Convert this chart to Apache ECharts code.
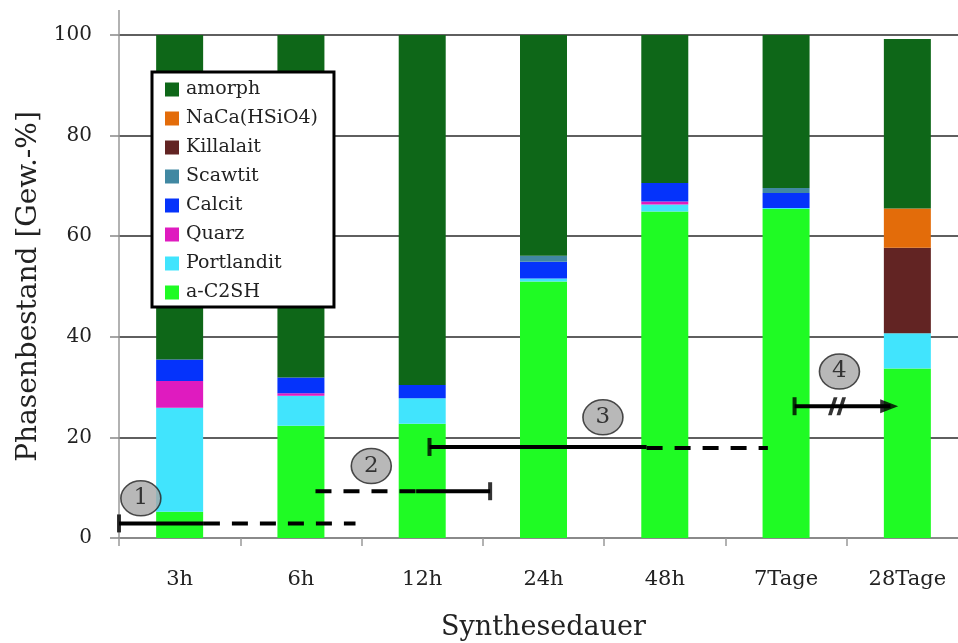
<!DOCTYPE html>
<html><head><meta charset="utf-8">
<script src="https://cdn.jsdelivr.net/npm/echarts@6/dist/echarts.min.js"></script>
<style>html,body{margin:0;padding:0;background:#fff}#c{width:958px;height:643px}</style>
</head><body><div id="c"></div>
<script>
// ---- data ----
const categories = ['3h','6h','12h','24h','48h','7Tage','28Tage'];
const aC2SH      = [5.2, 22.3, 22.7, 51.0, 64.9, 65.4, 33.7];
const portlandit = [20.7, 6.0, 5.1, 0.6, 1.4, 0.2, 7.0];
const quarz      = [5.3, 0.5, 0, 0, 0.6, 0, 0];
const calcit     = [4.3, 3.1, 2.6, 3.3, 3.7, 3.0, 0];
const scawtit    = [0, 0, 0, 1.2, 0, 1.0, 0];
const killalait  = [0, 0, 0, 0, 0, 0, 17.0];
const naca       = [0, 0, 0, 0, 0, 0, 7.8];
const amorph     = [64.5, 68.1, 69.6, 43.9, 29.4, 30.4, 33.7];
const yTicks = [0, 20, 40, 60, 80, 100];

// annotation ranges (x in category units, 0 = left edge of axis)
const ann1Solid = [[0, 2.9], [0.70, 2.9]];
const ann1Dash  = [[0.70, 2.9], [1.95, 2.9]];
const ann2Dash  = [[1.62, 9.3], [2.45, 9.3]];
const ann2Solid = [[2.45, 9.3], [3.06, 9.3]];
const ann3Solid = [[2.56, 18.1], [4.35, 18.1]];
const ann3Dash  = [[4.35, 17.9], [5.35, 17.9]];
const ann4Line  = [[5.57, 26.2], [6.36, 26.2]];
const ann4Arrow = [[6.35, 26.2]];
const ann4Break = [[5.92, 26.2]];
const endTicks  = [[0, 2.9], [3.06, 9.3], [2.56, 18.1], [5.57, 26.2]];
const badges    = [[0.18, 7.9, '1'], [2.08, 14.3, '2'], [3.99, 24.0, '3'], [5.94, 33.1, '4']];

// ---- chart ----
const FONT = '"DejaVu Serif", "Liberation Serif", serif';
const colors = {
  'a-C2SH': '#1ffb24', 'Portlandit': '#41e4fd', 'Quarz': '#df1bbf', 'Calcit': '#0533fb',
  'Scawtit': '#4188a2', 'Killalait': '#622423', 'NaCa(HSiO4)': '#e36c0a', 'amorph': '#0e6718'
};
const stackDefs = [
  ['a-C2SH', aC2SH], ['Portlandit', portlandit], ['Quarz', quarz], ['Calcit', calcit],
  ['Scawtit', scawtit], ['Killalait', killalait], ['NaCa(HSiO4)', naca], ['amorph', amorph]
];
const series = stackDefs.map(([name, vals]) => ({
  name, type: 'bar', stack: 'total', barWidth: 47, data: vals,
  itemStyle: { color: colors[name] }, xAxisIndex: 0, yAxisIndex: 0, z: 2
}));

function ln(data, dashed) {
  return { type: 'line', data, xAxisIndex: 1, yAxisIndex: 0, symbol: 'none', silent: true, z: 5,
    lineStyle: { color: '#000', width: 4, type: dashed ? [16, 12] : 'solid' } };
}
series.push(ln(ann1Solid, false), ln(ann1Dash, true), ln(ann2Dash, true), ln(ann2Solid, false),
  ln(ann3Solid, false), ln(ann3Dash, true), ln(ann4Line, false));
series.push({ type: 'scatter', data: endTicks, xAxisIndex: 1, yAxisIndex: 0, symbol: 'rect',
  symbolSize: [4, 18], itemStyle: { color: '#000' }, z: 6, silent: true });
series.push({ type: 'scatter', data: ann4Arrow, xAxisIndex: 1, yAxisIndex: 0, symbol: 'triangle',
  symbolRotate: -90, symbolSize: [14, 18], itemStyle: { color: '#000' }, z: 6, silent: true });
series.push({ type: 'scatter', data: ann4Break, xAxisIndex: 1, yAxisIndex: 0,
  symbol: 'path://M0,20 L6,0 L10,0 L4,20 Z M9,20 L15,0 L19,0 L13,20 Z', symbolSize: [18, 18],
  itemStyle: { color: '#000' }, z: 7, silent: true });
series.push({ type: 'scatter', data: badges, xAxisIndex: 1, yAxisIndex: 0, symbol: 'circle',
  symbolSize: [40, 35], z: 8, silent: true,
  itemStyle: { color: '#a6a6a6', borderColor: '#222', borderWidth: 1.5 },
  label: { show: true, position: 'inside', formatter: p => p.value[2], fontFamily: FONT, fontSize: 23, color: '#111' } });

const option = {
  animation: false,
  backgroundColor: '#fff',
  grid: { left: 119, width: 849, top: 35, bottom: 105, containLabel: false, outerBoundsMode: 'none' },
  legend: {
    data: ['amorph', 'NaCa(HSiO4)', 'Killalait', 'Scawtit', 'Calcit', 'Quarz', 'Portlandit', 'a-C2SH'],
    orient: 'vertical', left: 152, top: 72, itemWidth: 14, itemHeight: 14, itemGap: 10,
    icon: 'rect', backgroundColor: '#fff', borderColor: '#000', borderWidth: 3,
    padding: [8, 16, 5, 13], z: 10,
    textStyle: { fontFamily: FONT, fontSize: 19, color: '#222', padding: [0, 0, 0, 2] }
  },
  xAxis: [
    { type: 'category', data: categories, boundaryGap: true,
      axisLine: { lineStyle: { color: '#999', width: 1.5 } },
      axisTick: { show: true, length: 8, lineStyle: { color: '#999', width: 1.5 } },
      axisLabel: { fontFamily: FONT, fontSize: 21, color: '#222', margin: 31 },
      name: 'Synthesedauer', nameLocation: 'middle', nameGap: 76,
      nameTextStyle: { fontFamily: FONT, fontSize: 27, color: '#222' } },
    { type: 'value', min: 0, max: 7, show: false }
  ],
  yAxis: [
    { type: 'value', min: 0, max: 100, interval: 20,
      axisLine: { show: false },
      axisTick: { show: true, length: 9, lineStyle: { color: '#888', width: 1.5 } },
      axisLabel: { fontFamily: FONT, fontSize: 20, color: '#222', margin: 27,
        formatter: v => yTicks.includes(v) ? String(v) : '' },
      splitLine: { show: true, lineStyle: { color: '#2a2a2a', width: 1.5 } },
      name: 'Phasenbestand [Gew.-%]', nameLocation: 'middle', nameGap: 74,
      nameTextStyle: { fontFamily: FONT, fontSize: 28, color: '#222' } },
    { type: 'value', min: 0, max: 100, position: 'left', offset: 0,
      axisLine: { show: true, lineStyle: { color: '#999', width: 1.5 } },
      axisTick: { show: false }, axisLabel: { show: false }, splitLine: { show: false } }
  ],
  series
};
const chart = echarts.init(document.getElementById('c'), null, { renderer: 'canvas' });
chart.setOption(option);
// extend the y axis line a little above 100, as in the original
const top100 = chart.convertToPixel({ yAxisIndex: 0 }, 100);
const x0 = chart.convertToPixel({ xAxisIndex: 1 }, 0);
chart.setOption({ graphic: [{ type: 'line', shape: { x1: x0, y1: top100, x2: x0, y2: top100 - 25 },
  style: { stroke: '#999', lineWidth: 1.5 }, z: 1 }] });
</script></body></html>
